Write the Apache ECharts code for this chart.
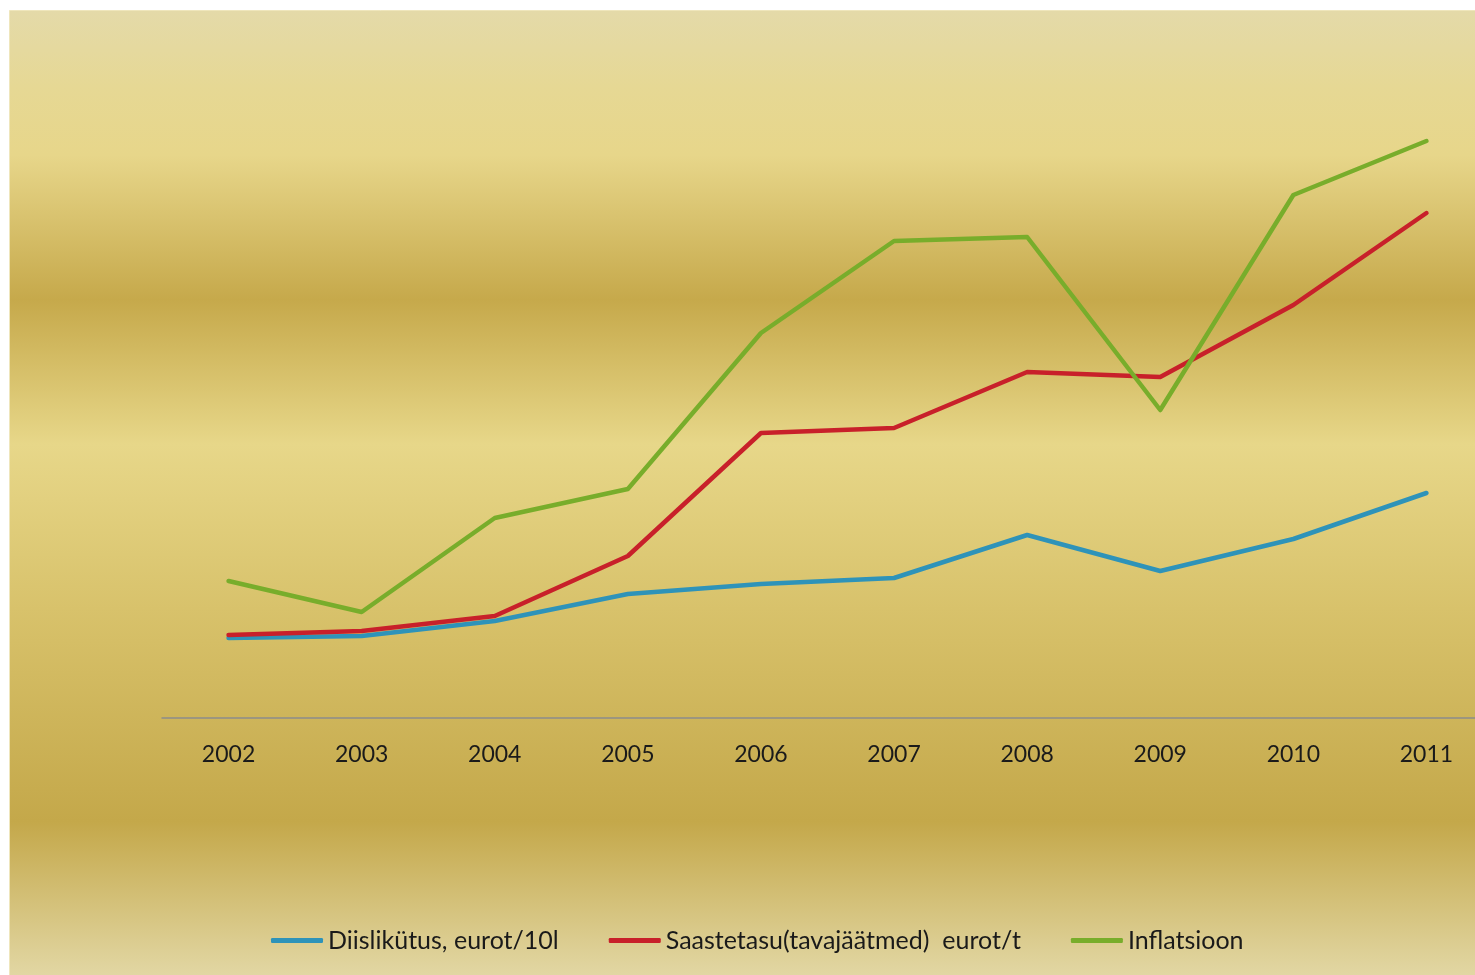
<!DOCTYPE html>
<html>
<head>
<meta charset="utf-8">
<script src="https://cdn.jsdelivr.net/npm/echarts@6/dist/echarts.min.js"></script>
<style>
html,body{margin:0;padding:0;background:#fff;overflow:hidden;width:1475px;height:975px;}
#chart{width:1493px;height:975px;}
</style>
</head>
<body>
<div id="chart"></div>
<script>
const years = ['2002','2003','2004','2005','2006','2007','2008','2009','2010','2011'];
const diislikytus = [8.0, 8.2, 9.7, 12.4, 13.4, 14.0, 18.3, 14.7, 17.9, 22.5];
const saastetasu = [8.3, 8.7, 10.2, 16.2, 28.5, 29.0, 34.6, 34.1, 41.3, 50.5];
const inflatsioon = [13.7, 10.6, 20.0, 22.9, 38.5, 47.7, 48.1, 30.8, 52.3, 57.7];
const seriesNames = ['Diislikütus, eurot/10l', 'Saastetasu(tavajäätmed)  eurot/t', 'Inflatsioon'];

const colors = ['#2E93B9', '#C8202A', '#78AD2B'];
const chart = echarts.init(document.getElementById('chart'));
const bg = new echarts.graphic.LinearGradient(0, 0, 0, 1, [
  {offset: 0.00, color: '#E4DAA9'},
  {offset: 0.08, color: '#E6D894'},
  {offset: 0.15, color: '#E7D68A'},
  {offset: 0.30, color: '#C6A94B'},
  {offset: 0.45, color: '#E7D789'},
  {offset: 0.62, color: '#D8C26B'},
  {offset: 0.84, color: '#C4A84A'},
  {offset: 1.00, color: '#E2D7A4'}
]);
const font = 'Lato, "Noto Sans", sans-serif';
const mk = (i, data) => ({
  name: seriesNames[i], type: 'line', data: data, symbol: 'none',
  lineStyle: {width: 4.5, color: colors[i], cap: 'round', join: 'round'},
  itemStyle: {color: colors[i]},
  animation: false
});
chart.setOption({
  backgroundColor: '#ffffff',
  animation: false,
  graphic: [{
    type: 'rect', left: 9, top: 10, z: -10, silent: true,
    shape: {width: 1484, height: 965},
    style: {fill: bg, stroke: '#EFE6BC', lineWidth: 1}
  }],
  grid: {left: 162, right: 0, top: 18, bottom: 257, containLabel: false},
  xAxis: {
    type: 'category', data: years, boundaryGap: true,
    axisLine: {show: true, lineStyle: {color: '#8C8C8C', width: 1.5}},
    axisTick: {show: false},
    axisLabel: {color: '#1a1a1a', fontSize: 23, fontFamily: font, margin: 25}
  },
  yAxis: {
    type: 'value', min: 0, max: 70,
    axisLine: {show: false}, axisTick: {show: false},
    axisLabel: {show: false}, splitLine: {show: false}
  },
  legend: {
    left: 266, top: 923, itemGap: 50, itemWidth: 52, itemHeight: 5,
    icon: 'roundRect',
    textStyle: {color: '#1a1a1a', fontSize: 25, fontFamily: font},
    data: seriesNames
  },
  series: [mk(0, diislikytus), mk(1, saastetasu), mk(2, inflatsioon)]
});
</script>
</body>
</html>
